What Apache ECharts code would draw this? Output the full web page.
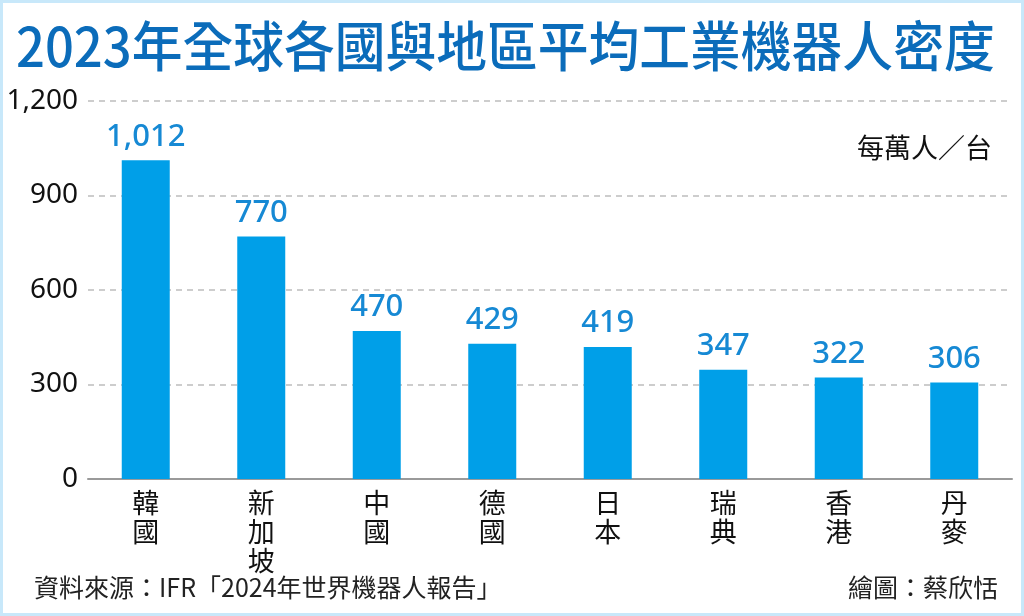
<!DOCTYPE html>
<html><head><meta charset="utf-8">
<script src="https://cdn.jsdelivr.net/npm/echarts@6/dist/echarts.min.js"></script>
<style>html,body{margin:0;padding:0;background:#fff}#c{width:1024px;height:616px}</style>
</head><body><div id="c"></div>
<script>
const categories = ['韓國','新加坡','中國','德國','日本','瑞典','香港','丹麥'];
const values = [1012, 770, 470, 429, 419, 347, 322, 306];
const yTicks = [0, 300, 600, 900, 1200];
const titleText = '2023年全球各國與地區平均工業機器人密度';
const unitText = '每萬人／台';
const sourceText = '資料來源：IFR「2024年世界機器人報告」';
const authorText = '繪圖：蔡欣恬';

const chart = echarts.init(document.getElementById('c'));
const cjk = '"Noto Sans CJK TC","Noto Sans",sans-serif';
chart.setOption({
  backgroundColor: '#fff',
  animation: false,
  grid: {left: 88, right: 12, top: 101, bottom: 137},
  xAxis: {
    type: 'category', data: categories,
    axisLine: {lineStyle: {color: '#9a9a9a', width: 2}},
    axisTick: {show: false},
    axisLabel: {
      margin: 9, color: '#111', fontFamily: cjk, fontSize: 27, lineHeight: 29,
      formatter: v => v.split('').join('\n')
    }
  },
  yAxis: {
    type: 'value', min: 0, max: 1200, interval: 300,
    axisLine: {show: false}, axisTick: {show: false},
    axisLabel: {
      margin: 10, color: '#111', fontFamily: '"Noto Sans",sans-serif', fontSize: 28,
      formatter: v => yTicks.includes(v) ? v.toLocaleString('en-US') : ''
    },
    splitLine: {lineStyle: {color: '#bdbdbd', type: [6, 5], width: 1.5}}
  },
  series: [{
    type: 'bar', data: values, barWidth: 48,
    itemStyle: {color: '#009fe8'},
    label: {
      show: true, position: 'top', distance: 8, color: '#1689d4',
      fontFamily: '"Noto Sans",sans-serif', fontSize: 31, fontWeight: 500,
      formatter: p => p.value.toLocaleString('en-US')
    }
  }],
  graphic: [
    {type: 'rect', shape: {x: 1.5, y: 1.5, width: 1021, height: 613},
     style: {fill: 'none', stroke: '#c8e8fa', lineWidth: 3}, silent: true},
    {type: 'text', x: 16, y: 19, scaleX: 0.94,
     style: {text: titleText, font: '500 54px "Noto Sans CJK TC"', fill: '#0b6cba'}},
    {type: 'text', right: 32, top: 134,
     style: {text: unitText, font: '27px "Noto Sans CJK TC"', fill: '#111'}},
    {type: 'text', left: 34, top: 575,
     style: {text: sourceText, font: '25px "Noto Sans CJK TC"', fill: '#222'}},
    {type: 'text', right: 26, top: 575,
     style: {text: authorText, font: '25px "Noto Sans CJK TC"', fill: '#222'}}
  ]
});
</script></body></html>
